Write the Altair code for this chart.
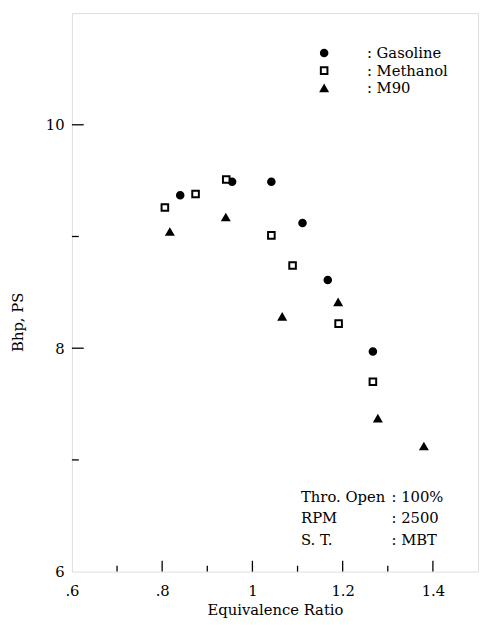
import altair as alt
import pandas as pd

# ---- data ----
fuels = ["Gasoline", "Methanol", "M90"]
gas_phi = [0.84, 0.955, 1.042, 1.111, 1.167, 1.267]
gas_bhp = [9.37, 9.49, 9.49, 9.12, 8.61, 7.97]
meth_phi = [0.806, 0.874, 0.942, 1.042, 1.089, 1.191, 1.267]
meth_bhp = [9.26, 9.38, 9.51, 9.01, 8.74, 8.22, 7.70]
m90_phi = [0.817, 0.941, 1.066, 1.19, 1.278, 1.38]
m90_bhp = [9.04, 9.17, 8.28, 8.41, 7.37, 7.12]

x_ticks = [0.6, 0.8, 1.0, 1.2, 1.4]
x_tick_labels = [".6", ".8", "1", "1.2", "1.4"]
x_major_inner = [0.8, 1.0, 1.2, 1.4]
x_minor_inner = [0.7, 0.9, 1.1, 1.3]
y_ticks = [6, 8, 10]
y_major_inner = [8, 10]
y_minor_inner = [7, 9]

note_keys = ["Thro. Open", "RPM", "S. T."]
note_vals = [": 100%", ": 2500", ": MBT"]

# ---- tables ----
rows = []
for f, xs, ys in [("Gasoline", gas_phi, gas_bhp), ("Methanol", meth_phi, meth_bhp), ("M90", m90_phi, m90_bhp)]:
    for a, b in zip(xs, ys):
        rows.append({"fuel": f, "phi": a, "bhp": b})
df = pd.DataFrame(rows)

W, H = 413, 568
FONT = "DejaVu Serif"
FS = 15

label_expr = "''"
for v, l in reversed(list(zip(x_ticks, x_tick_labels))):
    label_expr = f"abs(datum.value-{v})<1e-6 ? '{l}' : {label_expr}"

x_scale = alt.Scale(domain=[0.6, 1.5], nice=False, zero=False)
y_scale = alt.Scale(domain=[6, 11], nice=False, zero=False)

x_axis = alt.Axis(values=x_ticks, labelExpr=label_expr, title="Equivalence Ratio",
                  ticks=False, domain=False, grid=False, labelPadding=12,
                  labelFont=FONT, labelFontSize=FS, labelColor="black",
                  titleFont=FONT, titleFontSize=FS, titleFontWeight="normal",
                  titleColor="black", titlePadding=5, labelFlush=False)
y_axis = alt.Axis(values=y_ticks, format="d", title="Bhp, PS", ticks=False, domain=False, grid=False,
                  labelPadding=8, labelFont=FONT, labelFontSize=FS, labelColor="black",
                  titleFont=FONT, titleFontSize=FS, titleFontWeight="normal",
                  titleColor="black", titlePadding=20, titleY=314, labelFlush=False)

legend = alt.Legend(orient="none", legendX=249, legendY=33, title=None,
                    labelExpr="': ' + datum.label", labelFont=FONT, labelFontSize=FS,
                    labelColor="black", symbolSize=45, symbolStrokeWidth=2,
                    labelOffset=36, rowPadding=2)

points = alt.Chart(df).mark_point(size=45, strokeWidth=2, opacity=1, filled=True).encode(
    x=alt.X("phi:Q", scale=x_scale, axis=x_axis),
    y=alt.Y("bhp:Q", scale=y_scale, axis=y_axis),
    shape=alt.Shape("fuel:N", scale=alt.Scale(domain=fuels, range=["circle", "square", "triangle-up"]), legend=legend),
    fill=alt.Fill("fuel:N", scale=alt.Scale(domain=fuels, range=["black", "white", "black"]), legend=legend),
    stroke=alt.Stroke("fuel:N", scale=alt.Scale(domain=fuels, range=["black", "black", "black"]), legend=legend),
)

def xticks(vals, length):
    return alt.Chart(pd.DataFrame({"v": vals})).mark_rule(color="black", strokeWidth=1.3).encode(
        x=alt.X("v:Q", scale=x_scale), y=alt.value(H), y2=alt.value(H - length))

def yticks(vals, length):
    return alt.Chart(pd.DataFrame({"v": vals})).mark_rule(color="black", strokeWidth=1.3).encode(
        y=alt.Y("v:Q", scale=y_scale), x=alt.value(0), x2=alt.value(length))

layers = [xticks(x_major_inner, 11), xticks(x_minor_inner, 6),
          yticks(y_major_inner, 12), yticks(y_minor_inner, 7), points]

row_y = [492, 514, 536]
for k, v, yy in zip(note_keys, note_vals, row_y):
    layers.append(alt.Chart(pd.DataFrame({"t": [k]})).mark_text(
        align="left", baseline="middle", font=FONT, fontSize=FS, color="black").encode(
        text="t:N", x=alt.value(233), y=alt.value(yy)))
    layers.append(alt.Chart(pd.DataFrame({"t": [v]})).mark_text(
        align="left", baseline="middle", font=FONT, fontSize=FS, color="black").encode(
        text="t:N", x=alt.value(325), y=alt.value(yy)))

chart = alt.layer(*layers).properties(
    width=W, height=H, autosize=alt.AutoSizeParams(type="none"),
    padding={"left": 65, "top": 0, "right": 2, "bottom": 42},
).configure_view(stroke="black", strokeWidth=1.6).configure(background="white")

chart.save("out.html", embed_options={"renderer": "svg", "actions": False})
